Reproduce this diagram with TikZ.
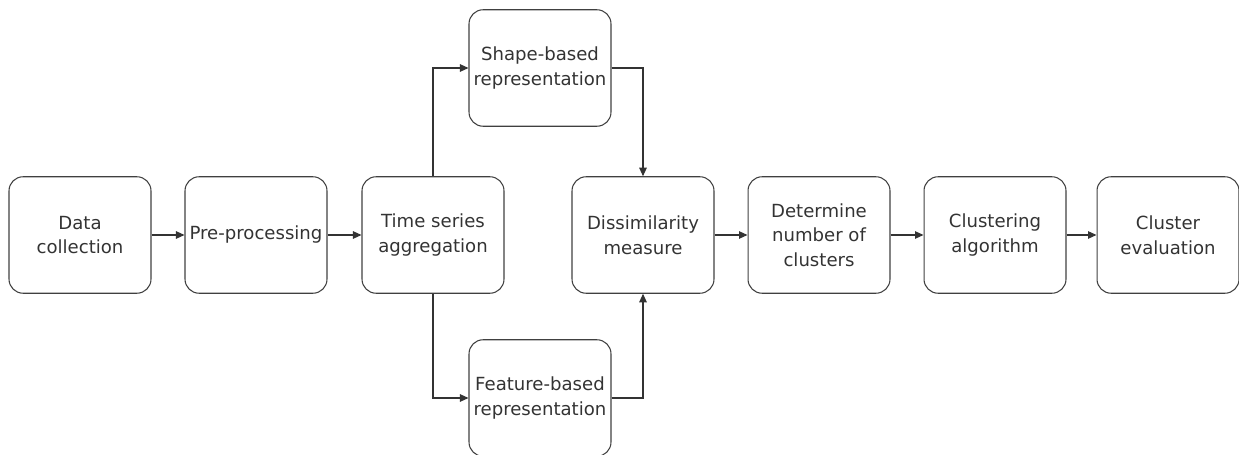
\documentclass[tikz,border=0pt]{standalone}
\usepackage{fontspec}
\setmainfont{DejaVu Sans}
\usepackage{tikz}
\usetikzlibrary{arrows.meta, positioning}
\tikzset{
  box/.style={draw=black!75, line width=0.6pt, rounded corners=8pt, align=center, text=black!80,
    font=\fontsize{10.3}{14}\selectfont, minimum width=2.84cm, minimum height=2.33cm, inner sep=2pt},
  arr/.style={-{Triangle[length=1.7mm, width=1.5mm]}, line width=0.6pt, draw=black!80}
}

\begin{document}
\begin{tikzpicture}[x=0.02cm, y=-0.02cm]
    \useasboundingbox (0,0) rectangle (1239,455);
    \node[box] (data) at (80,235) {Data\\collection};
    \node[box] (pre) at (256,235) {Pre-processing};
    \node[box] (agg) at (433,235) {Time series\\aggregation};
    \node[box] (shape) at (540,68) {Shape-based\\representation};
    \node[box] (feat) at (540,398) {Feature-based\\representation};
    \node[box] (dis) at (643,235) {Dissimilarity\\measure};
    \node[box] (num) at (819,235) {Determine\\number of\\clusters};
    \node[box] (alg) at (995,235) {Clustering\\algorithm};
    \node[box] (eval) at (1168,235) {Cluster\\evaluation};

    \draw[arr] (data) -- (pre);
    \draw[arr] (pre) -- (agg);
    \draw[arr] (agg.north) |- (shape.west);
    \draw[arr] (agg.south) |- (feat.west);
    \draw[arr] (shape.east) -| (dis.north);
    \draw[arr] (feat.east) -| (dis.south);
    \draw[arr] (dis) -- (num);
    \draw[arr] (num) -- (alg);
    \draw[arr] (alg) -- (eval);
  \end{tikzpicture}
\end{document}
